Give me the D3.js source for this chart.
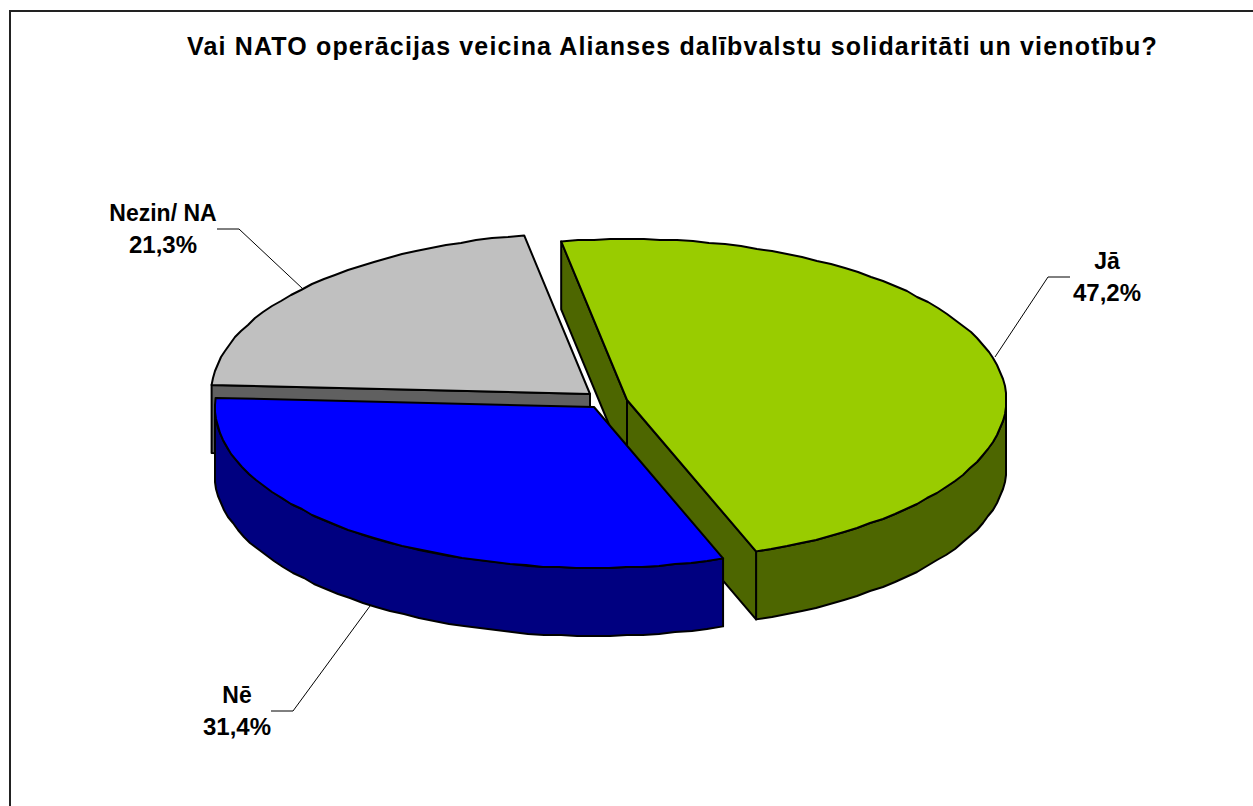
<!DOCTYPE html>
<html><head><meta charset="utf-8">
<script src="https://cdnjs.cloudflare.com/ajax/libs/d3/7.8.5/d3.min.js"></script>
<style>html,body{margin:0;padding:0;background:#fff}svg{display:block}text{font-family:"Liberation Sans",Arial,sans-serif;font-weight:bold;fill:#000}</style>
</head><body><svg id="c" width="1253" height="806"></svg>
<script>
const titleText = "Vai NATO operācijas veicina Alianses dalībvalstu solidaritāti un vienotību?";
const categories = ["Jā", "Nē", "Nezin/ NA"];
const values = [47.2, 31.4, 21.3];
const valueLabels = ["47,2%", "31,4%", "21,3%"];
const topColors = ["#99CC00", "#0000FF", "#C0C0C0"];
const wallColors = ["#4D6600", "#000080", "#606060"];

// layout
const W = 1253, H = 806;
const cx = 606, cy = 401, rx = 379, ry = 161, depth = 68;
const sliceShift = [[21, -1], [-12, 6], [-16, -7]];
const labelPos = [[1107, 269], [237, 703], [163, 221]];
const leaders = [
  [[995, 357], [1048, 277], [1070, 277]],
  [[370, 606], [293, 711], [271, 711]],
  [[303, 289], [239, 229], [217, 229]]
];
const drawOrder = [2, 0, 1];

const svg = d3.select("#c");
svg.append("path").attr("d", `M10,${H}V11H${W}`).attr("fill", "none").attr("stroke", "#222").attr("stroke-width", 2);

svg.append("text").attr("x", 672.5).attr("y", 55).attr("text-anchor", "middle")
  .attr("font-size", 25).attr("letter-spacing", 1.15).text(titleText);

const start = -10 * Math.PI / 180;
const arcs = d3.pie().sort(null).startAngle(start).endAngle(start + 2 * Math.PI)(values);

const scaleX = d3.scaleLinear().domain([-1, 1]).range([-rx, rx]);
const scaleY = d3.scaleLinear().domain([-1, 1]).range([ry, -ry]);
const step = 2.5 * Math.PI / 180;
const pt = (i, a, dz = 0) => {
  const [sx, sy] = sliceShift[i];
  return [cx + sx + scaleX(Math.sin(a)), cy + sy + scaleY(Math.cos(a)) + dz];
};
const apex = (i, dz = 0) => [cx + sliceShift[i][0], cy + sliceShift[i][1] + dz];
const arcPts = (i, a0, a1, dz = 0) => {
  const n = Math.max(1, Math.round((a1 - a0) / step));
  return d3.range(n + 1).map(k => {
    const p = pt(i, a0 + (a1 - a0) * k / n, dz);
    return (k === 0 || k === n) ? p : [Math.round(p[0]), Math.round(p[1])];
  });
};
const line = d3.line();
const poly = pts => line(pts) + "Z";
const style = (sel, fill) => sel.attr("fill", fill).attr("stroke", "#000").attr("stroke-width", 2)
  .attr("stroke-linejoin", "round");

const g = svg.append("g");
drawOrder.forEach(i => {
  const d = arcs[i], a0 = d.startAngle, a1 = d.endAngle;
  const sliceG = g.append("g");
  const lo = Math.max(a0, Math.PI / 2), hi = Math.min(a1, 3 * Math.PI / 2);
  if (hi > lo) {
    const top = arcPts(i, lo, hi), bottom = arcPts(i, lo, hi, depth).reverse();
    style(sliceG.append("path").attr("d", poly(top.concat(bottom))), wallColors[i]);
  }
  [[a0, a0 - Math.PI / 2], [a1, a1 + Math.PI / 2]].forEach(([a, n]) => {
    if (Math.cos(n) < 0) {
      const e = pt(i, a);
      const face = [apex(i), e, [e[0], e[1] + depth], apex(i, depth)];
      style(sliceG.append("path").attr("d", poly(face)), wallColors[i]);
    }
  });
  style(sliceG.append("path").attr("d", poly([apex(i)].concat(arcPts(i, a0, a1)))), topColors[i]);
});

const leaderLine = d3.line();
svg.append("g").selectAll("path").data(leaders).join("path")
  .attr("d", d => leaderLine(d)).attr("fill", "none").attr("stroke", "#000").attr("stroke-width", 1);

categories.forEach((c, i) => {
  svg.append("text").attr("text-anchor", "middle").attr("font-size", 23)
    .attr("x", labelPos[i][0]).attr("y", labelPos[i][1]).text(c);
  svg.append("text").attr("text-anchor", "middle").attr("font-size", 24)
    .attr("x", labelPos[i][0]).attr("y", labelPos[i][1] + 32).text(valueLabels[i]);
});
</script></body></html>
